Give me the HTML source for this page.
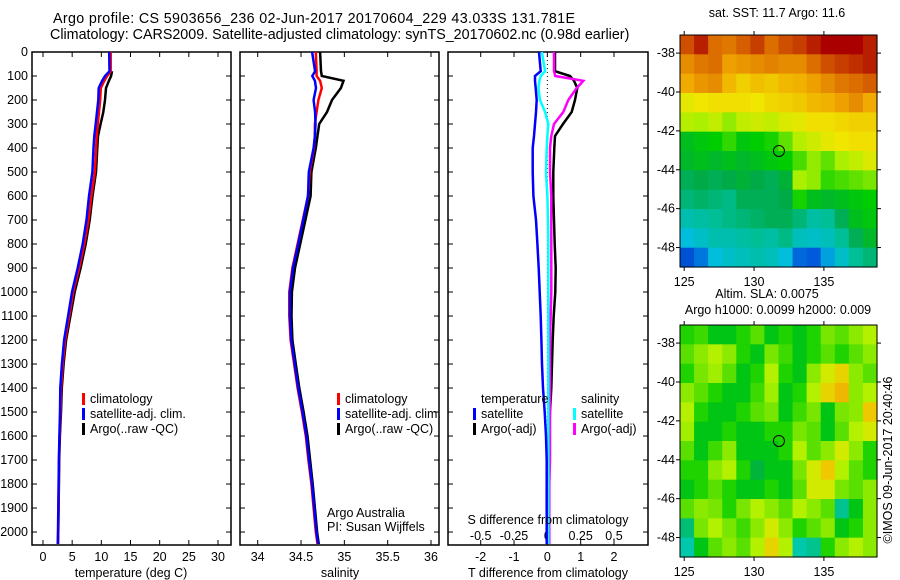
<!DOCTYPE html>
<html><head><meta charset="utf-8"><style>
html,body{margin:0;padding:0;background:#fff;}
svg{display:block;font-family:"Liberation Sans",sans-serif;}
text{font-size:12.5px;fill:#000;}
text.ttl{font-size:14.3px;}
</style></head><body>
<svg id="fig" width="900" height="580" viewBox="0 0 900 580" xmlns="http://www.w3.org/2000/svg">
<text class="ttl" x="53" y="23" textLength="522">Argo profile: CS 5903656_236 02-Jun-2017 20170604_229 43.033S 131.781E</text>
<text class="ttl" x="50" y="39">Climatology: CARS2009. Satellite-adjusted climatology: synTS_20170602.nc (0.98d earlier)</text>
<g id="p1"></g>
<g id="p2"></g>
<g id="p3"></g>
<g id="m1"></g>
<g id="m2"></g>
<text x="777" y="17" text-anchor="middle">sat. SST: 11.7 Argo: 11.6</text>
<text x="767" y="298" text-anchor="middle">Altim. SLA: 0.0075</text>
<text x="778" y="314" text-anchor="middle">Argo h1000: 0.0099 h2000: 0.009</text>
<text transform="translate(892,460) rotate(-90)" text-anchor="middle">©IMOS 09-Jun-2017 20:40:46</text>
</svg>
<script>
const depths=[0,80,100,120,150,200,250,300,350,400,500,600,700,800,900,1000,1100,1200,1300,1400,1500,1600,1700,1800,1900,2000,2050];
const tempClim=[11.6,11.6,11.0,10.5,9.9,9.8,9.6,9.4,9.2,9.1,8.9,8.3,7.8,7.1,6.2,5.2,4.5,3.8,3.4,3.1,3.0,2.85,2.75,2.7,2.65,2.6,2.55];
const salClim=[34.67,34.68,34.68,34.72,34.74,34.70,34.68,34.66,34.66,34.65,34.60,34.58,34.52,34.46,34.40,34.365,34.365,34.38,34.42,34.46,34.51,34.555,34.585,34.62,34.645,34.67,34.69];
const tDiffSat=[-0.25,-0.2,-0.37,-0.37,-0.35,-0.32,-0.34,-0.37,-0.4,-0.44,-0.44,-0.42,-0.34,-0.3,-0.26,-0.23,-0.2,-0.18,-0.16,-0.13,-0.08,-0.04,-0.02,-0.02,-0.02,-0.02,-0.02];
const tDiffArgo=[0.23,0.23,0.68,0.8,0.9,0.83,0.73,0.47,0.23,0.21,0.18,0.18,0.2,0.22,0.25,0.24,0.19,0.16,0.14,0.12,0.08,0.05,0.03,0.03,0.03,0.03,0.03];
const sDiffSat=[-0.042,-0.017,-0.05,-0.06,-0.067,-0.055,-0.017,0.007,0,-0.005,-0.01,0,0.005,0.007,0.007,0.007,0.007,0.007,0.007,0.007,0.007,0.007,0.007,0.007,0.007,0.007,0.007];
const sDiffArgo=[0.05,0.05,0.06,0.27,0.22,0.157,0.12,0.05,0.03,0.02,0.02,0.03,0.03,0.03,0.03,0.03,0.025,0.02,0.02,0.02,0.02,0.02,0.02,0.015,0.015,0.015,0.015];
const depthTicks=[0,100,200,300,400,500,600,700,800,900,1000,1100,1200,1300,1400,1500,1600,1700,1800,1900,2000];
const tempTicks=[0,5,10,15,20,25,30];
const salTicks=[34,34.5,35,35.5,36];
const salTickLabels=["34","34.5","35","35.5","36"];
const tdTicks=[-2,-1,0,1,2];
const sdTicks=[-0.5,-0.25,0,0.25,0.5];
const sdTickLabels=["-0.5","-0.25","0","0.25","0.5"];
const lonTicks=[125,130,135];
const latTicks=[-38,-40,-42,-44,-46,-48];
const floatLon=131.781, floatLat=-43.033;
const sstGrid=[
[14.5,14.8,14.3,14.2,14.4,14.6,14.3,14.5,14.6,14.8,15,15,15,14.8],
[14,14.2,14.3,13.8,13.9,14,14.1,14,14,14.3,14.5,14.6,14.7,14.8],
[13.7,13.9,14,13.5,13.2,13.4,13.3,13.5,13.6,13.8,14,14.2,14.3,14.4],
[12.8,12.9,13,13,13,12.9,13.1,13.2,13.3,13.5,13.6,13.8,14,13.7],
[12.4,12.3,12.5,12.2,12.5,12.6,12.5,12.7,12.8,13,13,13.1,13.2,13.2],
[11.4,11.5,11.6,11.8,11.5,11.6,11.7,12,12.4,12.6,12.8,12.9,13,13],
[11.3,11.4,11.3,11.4,11.3,11.4,11.5,11.6,11.9,12.2,12,12.3,12.5,12.7],
[11,11.1,11,11.1,11.2,11.1,11,11.2,12.3,12.2,11.8,11.9,12,12.1],
[10.8,10.9,10.8,10.7,11,11,11,11.1,11.7,11.4,11.3,11.4,11.5,11.6],
[10.4,10.5,10.6,10.7,10.8,10.9,11,11,10.8,10.5,10.6,11,11.4,11.5],
[10,10.2,10.4,10.4,10.5,10.6,10.5,10.7,10.3,10.2,10.3,10.6,11,11.3],
[9.2,9.5,10,10.2,10.3,10.4,10.3,10,9.4,9.3,9.8,10.2,10.6,10.8]];
const slaGrid=[
[0.02,0.03,0.0,0.0,0.02,0.04,0.0,0.02,0,0.02,0.05,0.04,0.06,0.08],
[0.04,0.06,0.08,0.06,0.02,0.0,0.05,0.03,0,0.02,0.04,0.02,0.04,0.06],
[0.02,0.05,0.07,0.04,0.0,0.02,0.08,0.02,0.0,0.06,0.1,0.12,0.06,0.04],
[0.06,0.04,0.02,0.0,0.0,0.03,0.07,0.0,0.02,0.08,0.12,0.14,0.06,0.08],
[0.08,0.02,0.0,0.0,0.02,0.04,0.05,0.0,0.03,0.05,0.0,0.05,0.06,0.13],
[0.07,0.0,0.0,0.02,0.0,0.0,0.02,0.02,0.05,0.04,0.0,0.04,0.08,0.1],
[0.04,0.0,0.03,0.06,0.0,0.0,0.0,0.02,0.08,0.04,0.06,0.1,0.06,0.02],
[0.02,0.02,0.06,0.08,0.02,-0.02,0.0,0.0,0.05,0.1,0.13,0.08,0.04,0.02],
[0.0,0.02,0.04,0.02,0.0,0.0,0.02,0.0,0.04,0.1,0.1,0.05,0.04,0.06],
[0.04,0.06,0.05,0.02,0.05,0.08,0.06,0.04,0.08,0.06,0.04,-0.05,0.0,0.06],
[-0.04,0.05,0.08,0.05,0.03,0.06,0.1,0.06,0.02,0.04,0.06,0.0,0.02,0.06],
[-0.06,0.0,0.04,0.06,0.04,0.08,0.12,0.08,-0.06,-0.05,0.02,0.06,0.08,0.06]];

const NS="http://www.w3.org/2000/svg";
function el(p,tag,attrs,txt){const e=document.createElementNS(NS,tag);for(const k in attrs)e.setAttribute(k,attrs[k]);if(txt!==undefined)e.textContent=txt;p.appendChild(e);return e;}
const PT=52,PB=545;
const yD=d=>PT+(d)*(PB-PT)/2054;
function lin(d0,d1,r0,r1){return v=>r0+(v-d0)*(r1-r0)/(d1-d0);}
function frame(g,x0,x1,left){
  const r=el(g,'rect',{x:x0,y:PT,width:x1-x0,height:PB-PT,fill:'none',stroke:'#000','stroke-width':1.5});
  
  
  depthTicks.forEach(d=>{const y=yD(d);
    el(g,'line',{x1:x0,x2:x0+5,y1:y,y2:y,stroke:'#000'});
    el(g,'line',{x1:x1-5,x2:x1,y1:y,y2:y,stroke:'#000'});
    if(left){const t=el(g,'text',{x:x0-4,y:y+4,'text-anchor':'end'},String(d));
      
      }
  });
}
function xticks(g,sc,ticks,labels,ly){ticks.forEach((v,i)=>{const x=sc(v);
  el(g,'line',{x1:x,x2:x,y1:PB-5,y2:PB,stroke:'#000'});el(g,'line',{x1:x,x2:x,y1:PT,y2:PT+5,stroke:'#000'});
  if(ly){const t=el(g,'text',{x:x,y:ly,'text-anchor':'middle'},labels[i]);
  
  }});}
function line(g,xs,color,name,start){let pts=[];for(let i=start||0;i<depths.length;i++)pts.push(xs[i].toFixed(1)+','+yD(depths[i]).toFixed(1));
  const p=el(g,'polyline',{points:pts.join(' '),fill:'none',stroke:color,'stroke-width':2.5,'stroke-linejoin':'miter'});
  
  }
function legend(g,x,y,items){items.forEach((it,i)=>{const yy=y+i*15;
  el(g,'rect',{x:x,y:yy-10,width:3,height:12,fill:it[1]});
  const t=el(g,'text',{x:x+8,y:yy},it[0]);
  
  });}

const g1=document.getElementById('p1');
const xT=lin(0,30,43,218);
frame(g1,32,231,true);
xticks(g1,xT,tempTicks,tempTicks.map(String),561);
const tSat=tempClim.map((v,i)=>v+tDiffSat[i]), tArgo=tempClim.map((v,i)=>v+tDiffArgo[i]);
line(g1,tArgo.map(xT),'#000','temp-argo-line',1);
line(g1,tempClim.map(xT),'#f00','temp-climatology-line');
line(g1,tSat.map(xT),'#00f','temp-satellite-line');
legend(g1,82,403,[['climatology','#f00'],['satellite-adj. clim.','#00f'],['Argo(..raw -QC)','#000']]);
el(g1,'text',{x:131,y:577,'text-anchor':'middle',},'temperature (deg C)');

const g2=document.getElementById('p2');
const xS=lin(34,36,257.7,431);
frame(g2,240,439,false);
xticks(g2,xS,salTicks,salTickLabels,561);
const sSat=salClim.map((v,i)=>v+sDiffSat[i]), sArgo=salClim.map((v,i)=>v+sDiffArgo[i]);
line(g2,sArgo.map(xS),'#000','sal-argo-line');
line(g2,salClim.map(xS),'#f00','sal-climatology-line');
line(g2,sSat.map(xS),'#00f','sal-satellite-line');
legend(g2,337,403,[['climatology','#f00'],['satellite-adj. clim.','#00f'],['Argo(..raw -QC)','#000']]);
el(g2,'text',{x:327,y:517,},'Argo Australia');
el(g2,'text',{x:327,y:531,},'PI: Susan Wijffels');
el(g2,'text',{x:340,y:577,'text-anchor':'middle',},'salinity');

const g3=document.getElementById('p3');
const xTD=lin(-2,2,480.7,614), xSD=lin(-0.5,0.5,480.7,614);
frame(g3,448,648,false);
xticks(g3,xTD,tdTicks,tdTicks.map(String),561);
sdTicks.forEach((v,i)=>{const t=el(g3,'text',{x:xSD(v),y:540,'text-anchor':'middle'},sdTickLabels[i]);
  
  });
el(g3,'line',{x1:xTD(0),x2:xTD(0),y1:PT,y2:PB,stroke:'#000','stroke-dasharray':'1,3'});
line(g3,tDiffArgo.map(xTD),'#000','tdiff-argo-line');
line(g3,sDiffArgo.map(xSD),'#f0f','sdiff-argo-line');
line(g3,sDiffSat.map(xSD),'#0ff','sdiff-satellite-line');
line(g3,tDiffSat.map(xTD),'#00f','tdiff-satellite-line');
el(g3,'text',{x:481,y:403,},'temperature');
el(g3,'text',{x:581,y:403,},'salinity');
legend(g3,473,418,[['satellite','#00f'],['Argo(-adj)','#000']]);
legend(g3,573,418,[['satellite','#0ff'],['Argo(-adj)','#f0f']]);
el(g3,'text',{x:548,y:524,'text-anchor':'middle',},'S difference from climatology');
el(g3,'text',{x:548,y:577,'text-anchor':'middle',},'T difference from climatology');

function rgb(c){return 'rgb('+c.map(Math.round).join(',')+')';}
function colorFrom(stops,v){if(v<=stops[0][0])return rgb(stops[0][1]);for(let i=1;i<stops.length;i++){if(v<=stops[i][0]){const a=stops[i-1],b=stops[i],f=(v-a[0])/(b[0]-a[0]);
  return rgb([0,1,2].map(k=>a[1][k]+(b[1][k]-a[1][k])*f));}}return rgb(stops[stops.length-1][1]);}
const sstStops=[[8.7,[0,40,170]],[9.3,[0,90,220]],[10,[0,190,220]],[10.6,[0,190,150]],[11.1,[0,170,70]],[11.6,[0,205,0]],[12.3,[170,240,0]],[12.9,[240,230,0]],[13.7,[240,170,0]],[14.3,[220,110,0]],[15,[170,0,0]]];
const slaStops=[[-0.06,[0,200,170]],[-0.02,[0,180,60]],[0.01,[0,205,0]],[0.05,[120,230,0]],[0.09,[200,245,0]],[0.13,[240,200,0]],[0.16,[240,150,0]]];
function drawMap(gid,y0,grid,stops,lblY){
  const g=document.getElementById(gid);const X0=680,X1=877,Y0=y0,Y1=y0+232;
  const xL=lin(124.7,138.8,X0,X1), yL=lin(-37.07,-49.0,Y0,Y1);
  const rows=grid.length, cols=grid[0].length, cw=(X1-X0)/cols, ch=(Y1-Y0)/rows;
  grid.forEach((row,r)=>row.forEach((v,c)=>{const rc=el(g,'rect',{x:X0+c*cw,y:Y0+r*ch,width:cw+0.6,height:ch+0.6,fill:colorFrom(stops,v)});
    
    }));
  el(g,'rect',{x:X0,y:Y0,width:X1-X0,height:Y1-Y0,fill:'none',stroke:'#000'});
  lonTicks.forEach(l=>{const x=xL(l);el(g,'line',{x1:x,x2:x,y1:Y1,y2:Y1+4,stroke:'#000'});el(g,'line',{x1:x,x2:x,y1:Y0-4,y2:Y0,stroke:'#000'});
    const t=el(g,'text',{x:x,y:lblY,'text-anchor':'middle'},String(l));
    
    });
  latTicks.forEach(l=>{const y=yL(l);el(g,'line',{x1:X0-4,x2:X0,y1:y,y2:y,stroke:'#000'});el(g,'line',{x1:X1,x2:X1+4,y1:y,y2:y,stroke:'#000'});
    const t=el(g,'text',{x:X0-5,y:y+4,'text-anchor':'end'},String(l));
    
    });
  const c=el(g,'circle',{cx:xL(floatLon),cy:yL(floatLat),r:5.5,fill:'none',stroke:'#000','stroke-width':1});
  
  
}
drawMap('m1',35,sstGrid,sstStops,286);
drawMap('m2',325,slaGrid,slaStops,576);
</script>
</body></html>
